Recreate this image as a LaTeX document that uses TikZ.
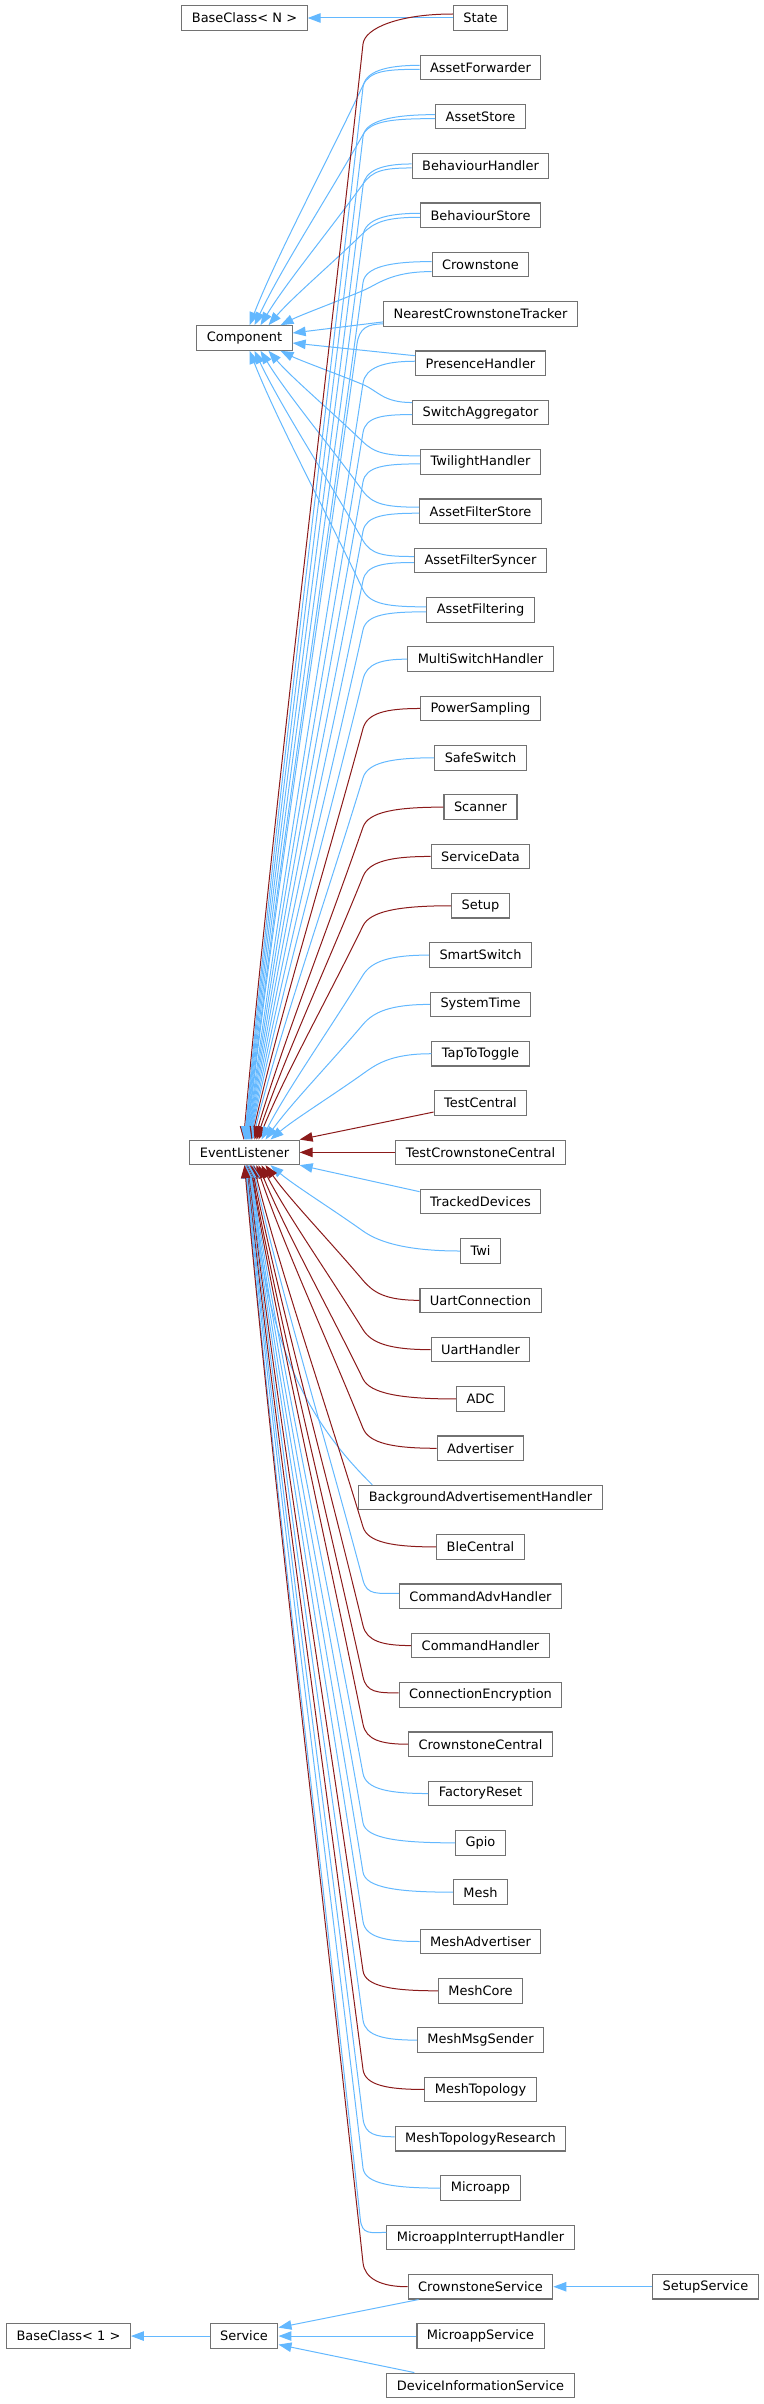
\documentclass[tikz,border=0pt]{standalone}
\usepackage{fontspec}
\setmainfont{DejaVu Sans}
\usetikzlibrary{arrows.meta,calc}
\definecolor{pubblue}{HTML}{63B8FF}
\definecolor{protred}{HTML}{8B1A1A}
\definecolor{boxgray}{HTML}{727272}
\tikzset{
  box/.style={draw=boxgray, line width=1.1bp, fill=white, inner xsep=10bp, inner ysep=0bp,
    minimum height=24.5bp, font=\fontsize{13}{15}\selectfont, text=black},
  pub/.style={draw=pubblue, fill=none, line width=1bp, -{Triangle[length=13bp,width=9.5bp]}},
  prot/.style={draw=protred, fill=none, line width=1bp, -{Triangle[length=13bp,width=9.5bp]}},
}
% #1 style, #2 child node, #3 start offset, #4 bend y offset (image px, down +), #5 end point
\newcommand\mkedge[5]{%
  \coordinate (mS) at ($(#2.west)+#3$);
  \path let \p1=(#2.west) in coordinate (mM) at ({min(363bp,\x1-26bp)},{\y1-(#4)*1bp});
  \coordinate (mE) at #5;
  \coordinate (mA) at ($(mM)!-16bp!(mE)$);
  \coordinate (mB) at ($(mM)!0.35!(mE)$);
  \coordinate (mC) at ($(mE)!0.3!(mM)$);
  \coordinate (mD) at ($(mE)!0.25!(mM)$);
  \coordinate (mQ) at (mS -| mM);
  \coordinate (mP) at ($(mQ)!0.4!(mS)$);
  \draw[#1] ($(#2.west)+#3$) .. controls (mP) and (mA) .. (mM) .. controls (mB) and (mD |- mC) .. #5;
}
\begin{document}
\begin{tikzpicture}[x=1bp,y=-1bp]
\useasboundingbox (0,0) rectangle (764,2404);
% left column
\node[box] (BCN) at (244.5,18) {BaseClass< N >};
\node[box] (Component) at (244.5,338) {Component};
\node[box] (EL) at (244.5,1152.36) {EventListener};
\node[box] (Service) at (244,2336.04) {Service};
\node[box] (BC1) at (68.5,2336.04) {BaseClass< 1 >};
\node[box] (SetupService) at (705.5,2286.72) {SetupService};
% right column
\node[box] (State) at (480.5,18) {State};
\node[box] (AssetForwarder) at (480.5,67.32) {AssetForwarder};
\node[box] (AssetStore) at (480.5,116.64) {AssetStore};
\node[box] (BehaviourHandler) at (480.5,165.96) {BehaviourHandler};
\node[box] (BehaviourStore) at (480.5,215.28) {BehaviourStore};
\node[box] (Crownstone) at (480.5,264.6) {Crownstone};
\node[box] (NCT) at (480.5,313.92) {NearestCrownstoneTracker};
\node[box] (PresenceHandler) at (480.5,363.24) {PresenceHandler};
\node[box] (SwitchAggregator) at (480.5,412.56) {SwitchAggregator};
\node[box] (TwilightHandler) at (480.5,461.88) {TwilightHandler};
\node[box] (AssetFilterStore) at (480.5,511.2) {AssetFilterStore};
\node[box] (AssetFilterSyncer) at (480.5,560.52) {AssetFilterSyncer};
\node[box] (AssetFiltering) at (480.5,609.84) {AssetFiltering};
\node[box] (MultiSwitchHandler) at (480.5,659.16) {MultiSwitchHandler};
\node[box] (PowerSampling) at (480.5,708.48) {PowerSampling};
\node[box] (SafeSwitch) at (480.5,757.8) {SafeSwitch};
\node[box] (Scanner) at (480.5,807.12) {Scanner};
\node[box] (ServiceData) at (480.5,856.44) {ServiceData};
\node[box] (Setup) at (480.5,905.76) {Setup};
\node[box] (SmartSwitch) at (480.5,955.08) {SmartSwitch};
\node[box] (SystemTime) at (480.5,1004.4) {SystemTime};
\node[box] (TapToToggle) at (480.5,1053.72) {TapToToggle};
\node[box] (TestCentral) at (480.5,1103.04) {TestCentral};
\node[box] (TestCrownstoneCentral) at (480.5,1152.36) {TestCrownstoneCentral};
\node[box] (TrackedDevices) at (480.5,1201.68) {TrackedDevices};
\node[box] (Twi) at (480.5,1251) {Twi};
\node[box] (UartConnection) at (480.5,1300.32) {UartConnection};
\node[box] (UartHandler) at (480.5,1349.64) {UartHandler};
\node[box] (ADC) at (480.5,1398.96) {ADC};
\node[box] (Advertiser) at (480.5,1448.28) {Advertiser};
\node[box] (BAH) at (480.5,1497.6) {BackgroundAdvertisementHandler};
\node[box] (BleCentral) at (480.5,1546.92) {BleCentral};
\node[box] (CommandAdvHandler) at (480.5,1596.24) {CommandAdvHandler};
\node[box] (CommandHandler) at (480.5,1645.56) {CommandHandler};
\node[box] (ConnectionEncryption) at (480.5,1694.88) {ConnectionEncryption};
\node[box] (CrownstoneCentral) at (480.5,1744.2) {CrownstoneCentral};
\node[box] (FactoryReset) at (480.5,1793.52) {FactoryReset};
\node[box] (Gpio) at (480.5,1842.84) {Gpio};
\node[box] (Mesh) at (480.5,1892.16) {Mesh};
\node[box] (MeshAdvertiser) at (480.5,1941.48) {MeshAdvertiser};
\node[box] (MeshCore) at (480.5,1990.8) {MeshCore};
\node[box] (MeshMsgSender) at (480.5,2040.12) {MeshMsgSender};
\node[box] (MeshTopology) at (480.5,2089.44) {MeshTopology};
\node[box] (MeshTopologyResearch) at (480.5,2138.76) {MeshTopologyResearch};
\node[box] (Microapp) at (480.5,2188.08) {Microapp};
\node[box] (MIH) at (480.5,2237.4) {MicroappInterruptHandler};
\node[box] (CrownstoneService) at (480.5,2286.72) {CrownstoneService};
\node[box] (MicroappService) at (480.5,2336.04) {MicroappService};
\node[box] (DIS) at (480.5,2385.36) {DeviceInformationService};

% ---- edges to Component
\mkedge{pub}{AssetForwarder}{(0,2)}{18}{($(Component.north)+(5,0)$)}
\mkedge{pub}{AssetStore}{(0,2)}{18}{($(Component.north)+(10,0)$)}
\mkedge{pub}{BehaviourHandler}{(0,2)}{18}{($(Component.north)+(16,0)$)}
\mkedge{pub}{BehaviourStore}{(0,2)}{18}{($(Component.north)+(24,0)$)}
\mkedge{pub}{Crownstone}{(0,7)}{26}{($(Component.north)+(36,0)$)}
\draw[pub] ($(NCT.west)+(0,8)$) -- ($(Component.east)+(0,-5)$);
\draw[pub] ($(PresenceHandler.west)+(0,-7.5)$) -- ($(Component.east)+(0,5)$);
\mkedge{pub}{SwitchAggregator}{(0,-10)}{-28}{($(Component.south)+(36,0)$)}
\mkedge{pub}{TwilightHandler}{(0,-6)}{-20}{($(Component.south)+(24,0)$)}
\mkedge{pub}{AssetFilterStore}{(0,-4)}{-20}{($(Component.south)+(16,0)$)}
\mkedge{pub}{AssetFilterSyncer}{(0,-4)}{-20}{($(Component.south)+(10,0)$)}
\mkedge{pub}{AssetFiltering}{(0,-3)}{-20}{($(Component.south)+(5,0)$)}

% ---- edges to EventListener from above
\draw[pub] (State.west) -- (BCN.east);
\mkedge{prot}{State}{(0,-4)}{26}{($(EL.north)+(-1,0)$)}
\mkedge{pub}{AssetForwarder}{(0,-2)}{20}{($(EL.north)+(0,0)$)}
\mkedge{pub}{AssetStore}{(0,-2)}{20}{($(EL.north)+(0.5,0)$)}
\mkedge{pub}{BehaviourHandler}{(0,-2)}{20}{($(EL.north)+(1,0)$)}
\mkedge{pub}{BehaviourStore}{(0,-2)}{20}{($(EL.north)+(1.5,0)$)}
\mkedge{pub}{Crownstone}{(0,-3)}{18}{($(EL.north)+(2,0)$)}
\mkedge{pub}{NCT}{(0,10)}{30}{($(EL.north)+(2.5,0)$)}
\mkedge{pub}{PresenceHandler}{(0,-2)}{20}{($(EL.north)+(3,0)$)}
\mkedge{pub}{SwitchAggregator}{(0,2)}{20}{($(EL.north)+(3.5,0)$)}
\mkedge{pub}{TwilightHandler}{(0,2)}{20}{($(EL.north)+(4,0)$)}
\mkedge{pub}{AssetFilterStore}{(0,2)}{20}{($(EL.north)+(4.5,0)$)}
\mkedge{pub}{AssetFilterSyncer}{(0,2)}{20}{($(EL.north)+(5,0)$)}
\mkedge{pub}{AssetFiltering}{(0,2)}{20}{($(EL.north)+(5.5,0)$)}
\mkedge{pub}{MultiSwitchHandler}{(0,0)}{20}{($(EL.north)+(6,0)$)}
\mkedge{prot}{PowerSampling}{(0,0)}{20}{($(EL.north)+(7,0)$)}
\mkedge{pub}{SafeSwitch}{(0,0)}{20}{($(EL.north)+(8,0)$)}
\mkedge{prot}{Scanner}{(0,0)}{20}{($(EL.north)+(10,0)$)}
\mkedge{prot}{ServiceData}{(0,0)}{20}{($(EL.north)+(12,0)$)}
\mkedge{prot}{Setup}{(0,0)}{20}{($(EL.north)+(14,0)$)}
\mkedge{pub}{SmartSwitch}{(0,0)}{20}{($(EL.north)+(17,0)$)}
\mkedge{pub}{SystemTime}{(0,0)}{20}{($(EL.north)+(21,0)$)}
\mkedge{pub}{TapToToggle}{(0,0)}{20}{($(EL.north)+(26,0)$)}
\draw[prot] ($(TestCentral.west)+(0,9)$) -- (EL.north east);
\draw[prot] (TestCrownstoneCentral.west) -- (EL.east);
\draw[pub] ($(TrackedDevices.west)+(0,-10)$) -- (EL.south east);

% ---- edges to EventListener from below
\mkedge{pub}{Twi}{(0,0)}{-20}{($(EL.south)+(26,0)$)}
\mkedge{prot}{UartConnection}{(0,0)}{-20}{($(EL.south)+(21,0)$)}
\mkedge{prot}{UartHandler}{(0,0)}{-20}{($(EL.south)+(17,0)$)}
\mkedge{prot}{ADC}{(0,0)}{-20}{($(EL.south)+(14,0)$)}
\mkedge{prot}{Advertiser}{(0,0)}{-20}{($(EL.south)+(12,0)$)}
\draw[pub] ($(BAH.north west)+(14,0)$) .. controls +(-40,-40) and +(5,200) .. ($(EL.south)+(10,0)$);
\mkedge{prot}{BleCentral}{(0,0)}{-20}{($(EL.south)+(9,0)$)}
\mkedge{pub}{CommandAdvHandler}{(0,-3)}{-16}{($(EL.south)+(8,0)$)}
\mkedge{prot}{CommandHandler}{(0,0)}{-20}{($(EL.south)+(7,0)$)}
\mkedge{prot}{ConnectionEncryption}{(0,-2)}{-18}{($(EL.south)+(6,0)$)}
\mkedge{prot}{CrownstoneCentral}{(0,0)}{-20}{($(EL.south)+(5.5,0)$)}
\mkedge{pub}{FactoryReset}{(0,0)}{-20}{($(EL.south)+(5,0)$)}
\mkedge{pub}{Gpio}{(0,0)}{-20}{($(EL.south)+(4.5,0)$)}
\mkedge{pub}{Mesh}{(0,0)}{-20}{($(EL.south)+(4,0)$)}
\mkedge{pub}{MeshAdvertiser}{(0,0)}{-20}{($(EL.south)+(3.5,0)$)}
\mkedge{prot}{MeshCore}{(0,0)}{-20}{($(EL.south)+(3,0)$)}
\mkedge{pub}{MeshMsgSender}{(0,0)}{-20}{($(EL.south)+(2.5,0)$)}
\mkedge{prot}{MeshTopology}{(0,0)}{-20}{($(EL.south)+(2,0)$)}
\mkedge{pub}{MeshTopologyResearch}{(0,-2)}{-20}{($(EL.south)+(1.5,0)$)}
\mkedge{pub}{Microapp}{(0,0)}{-20}{($(EL.south)+(1,0)$)}
\mkedge{pub}{MIH}{(0,-5)}{-18}{($(EL.south)+(0.5,0)$)}
\mkedge{prot}{CrownstoneService}{(0,0)}{-24}{($(EL.south)+(0,0)$)}

% ---- services
\draw[pub] (SetupService.west) -- (CrownstoneService.east);
\draw[pub] ($(CrownstoneService.south west)+(11,0)$) -- ($(Service.east)+(0,-8.5)$);
\draw[pub] (MicroappService.west) -- (Service.east);
\draw[pub] ($(DIS.north west)+(28,0)$) -- ($(Service.east)+(0,8.5)$);
\draw[pub] (Service.west) -- (BC1.east);
\end{tikzpicture}
\end{document}
